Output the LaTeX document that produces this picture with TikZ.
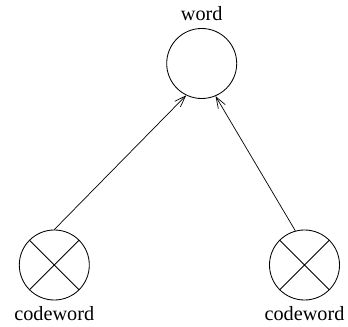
\documentclass[tikz,border=0pt]{standalone}
\usepackage{fontspec}
\setmainfont{Liberation Serif}
\usetikzlibrary{arrows.meta, positioning}
\tikzset{
  ring/.style={circle, draw, line width=0.6pt, minimum size=1.75cm, inner sep=0pt},
  labelfont/.style={font=\fontsize{14.4}{17}\selectfont},
  wordnode/.style={ring, label={[labelfont, label distance=0.5mm]above:#1}},
  codenode/.style={ring, label={[labelfont, label distance=0.3mm]below:#1},
    path picture={\draw[line width=0.6pt] (path picture bounding box.north west) -- (path picture bounding box.south east)
      (path picture bounding box.north east) -- (path picture bounding box.south west);}},
  arrow/.style={-{Straight Barb[length=2.8mm, width=2mm]}, line width=0.5pt},
}
\begin{document}
\begin{tikzpicture}[x=0.025cm, y=-0.025cm]
\useasboundingbox (0,0) rectangle (348,327);
\node[wordnode=word] (w) at (201.7,63.5) {};
\node[codenode=codeword] (cl) at (54.3,265) {};
\node[codenode=codeword] (cr) at (304.5,265) {};
\draw[arrow] (cl.north) -- (w.244);
\draw[arrow] (cr.105) -- (w.293);
\end{tikzpicture}
\end{document}
